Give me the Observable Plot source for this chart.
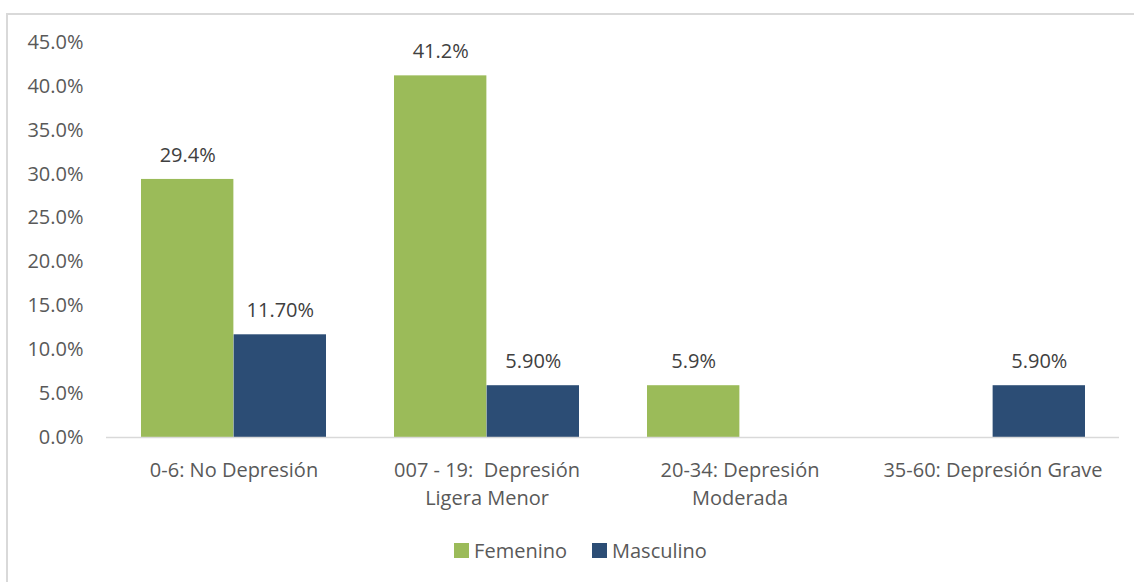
<!DOCTYPE html>
<html>
<head>
<meta charset="utf-8">
<script src="https://cdn.jsdelivr.net/npm/d3@7"></script>
<script src="https://cdn.jsdelivr.net/npm/@observablehq/plot@0.6"></script>
<style>
  html, body { margin: 0; padding: 0; background: #fff; }
  body { width: 1134px; height: 582px; overflow: hidden; position: relative; font-family: "Open Sans", sans-serif; }
  #frame { position: absolute; left: 6px; top: 13px; width: 1300px; height: 700px; border: 2px solid #d9d9d9; box-sizing: border-box; }
  #chart { position: absolute; left: 0; top: 0; }
  #legend { position: absolute; left: 0; width: 1134px; top: 537px; display: flex; justify-content: center; gap: 25px; font-size: 20px; color: #595959; padding-left: 27px; box-sizing: border-box; }
  .item { display: flex; align-items: center; gap: 5px; }
  .sw { width: 15px; height: 15px; display: inline-block; }
</style>
</head>
<body>
<div id="frame"></div>
<div id="chart"></div>
<div id="legend"></div>
<script>
const categories = ["0-6: No Depresión", "007 - 19:  Depresión Ligera Menor", "20-34: Depresión Moderada", "35-60: Depresión Grave"];
const categoryLines = ["0-6: No Depresión", "007 - 19:  Depresión\nLigera Menor", "20-34: Depresión\nModerada", "35-60: Depresión Grave"];
const series = ["Femenino", "Masculino"];
const femenino = [29.4, 41.2, 5.9, 0];
const masculino = [11.7, 5.9, 0, 5.9];
const femeninoLabels = ["29.4%", "41.2%", "5.9%", ""];
const masculinoLabels = ["11.70%", "5.90%", "", "5.90%"];
const yTicks = [0, 5, 10, 15, 20, 25, 30, 35, 40, 45];
const colors = ["#9BBB59", "#2C4D75"];

const femData = categories.map((c, i) => ({category: c, value: femenino[i], label: femeninoLabels[i]}));
const masData = categories.map((c, i) => ({category: c, value: masculino[i], label: masculinoLabels[i]}));
const lineOf = new Map(categories.map((c, i) => [c, categoryLines[i]]));

const W = 1134, H = 530;
const halfBand = (W - 106 - 15) / 4 / 2;
const outerPad = 34;
const labelShift = (halfBand - outerPad) / 2;

const chart = Plot.plot({
  width: W,
  height: H,
  marginLeft: 106,
  marginRight: 15,
  marginTop: 42,
  marginBottom: H - 437,
  style: {fontFamily: "'Open Sans', sans-serif", fontSize: "20px", color: "#595959", background: "transparent"},
  x: {domain: categories, padding: 0, label: null},
  y: {domain: [0, 45], label: null},
  marks: [
    Plot.axisY({ticks: yTicks, tickFormat: d => d.toFixed(1) + "%", tickSize: 0, tickPadding: 23, label: null, fill: "#595959"}),
    Plot.axisX({tickSize: 0, tickPadding: 20, tickFormat: d => lineOf.get(d), lineHeight: 1.4, label: null, fill: "#595959"}),
    Plot.barY(femData, {x: "category", y: "value", fill: colors[0], insetLeft: outerPad, insetRight: halfBand}),
    Plot.barY(masData, {x: "category", y: "value", fill: colors[1], insetLeft: halfBand, insetRight: outerPad}),
    Plot.ruleY([0], {stroke: "#d9d9d9", strokeWidth: 1.5}),
    Plot.text(femData, {x: "category", y: "value", text: "label", dx: -labelShift, dy: -24, fill: "#404040"}),
    Plot.text(masData, {x: "category", y: "value", text: "label", dx: labelShift, dy: -24, fill: "#404040"})
  ]
});
document.getElementById("chart").appendChild(chart);

const legend = document.getElementById("legend");
series.forEach((s, i) => {
  const item = document.createElement("div");
  item.className = "item";
  const sw = document.createElement("span");
  sw.className = "sw";
  sw.style.background = colors[i];
  const t = document.createElement("span");
  t.textContent = s;
  item.appendChild(sw);
  item.appendChild(t);
  legend.appendChild(item);
});
</script>
</body>
</html>
